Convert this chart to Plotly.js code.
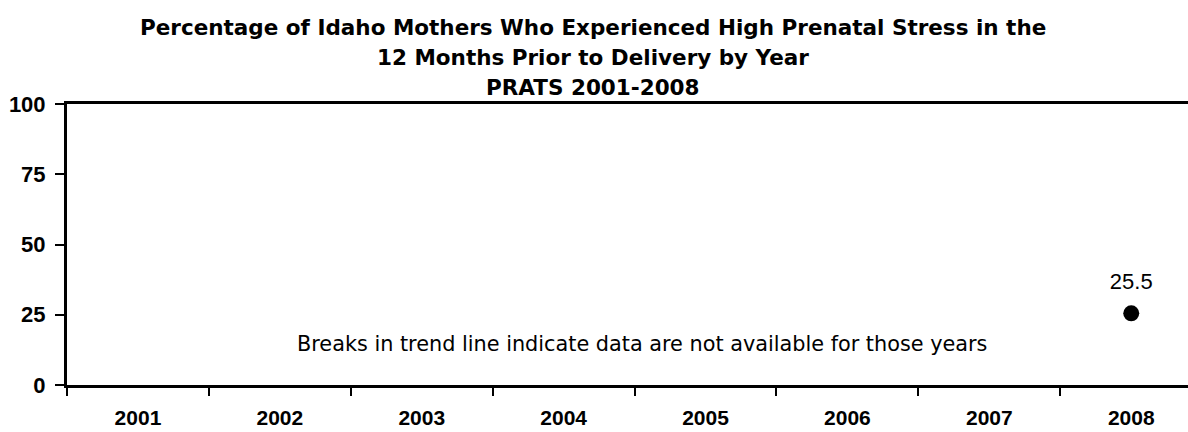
<!DOCTYPE html>
<html>
<head>
<meta charset="utf-8">
<script src="https://cdn.plot.ly/plotly-3.0.1.min.js"></script>
<style>html,body{margin:0;padding:0;background:#fff;}#chart{width:1188px;height:432px;}</style>
</head>
<body>
<div id="chart"></div>
<script>
const years = ["2001","2002","2003","2004","2005","2006","2007","2008"];
const values = [null, null, null, null, null, null, null, 25.5];
const yTicks = [0, 25, 50, 75, 100];
const titleLines = [
  "Percentage of Idaho Mothers Who Experienced High Prenatal Stress in the",
  "12 Months Prior to Delivery by Year",
  "PRATS 2001-2008"
];
const note = "Breaks in trend line indicate data are not available for those years";

const trace = {
  x: years,
  y: values,
  type: "scatter",
  mode: "lines+markers",
  connectgaps: false,
  line: {color: "#000", width: 2},
  marker: {color: "#000", size: 16},
  cliponaxis: false,
  hoverinfo: "skip"
};

// value labels: invisible larger marker so the text sits above the point
const labelTrace = {
  x: years,
  y: values,
  type: "scatter",
  mode: "markers+text",
  marker: {color: "rgba(0,0,0,0)", size: 28},
  text: values.map(v => v == null ? "" : v.toFixed(1)),
  textposition: "top center",
  textfont: {family: "Liberation Sans", size: 22, color: "#000"},
  cliponaxis: false,
  hoverinfo: "skip"
};

const titleY = [1.274, 1.167, 1.060];
const annotations = titleLines.map((t, i) => ({
  text: "<b>" + t + "</b>",
  xref: "paper", yref: "paper",
  x: (593 - 67) / 1121, y: titleY[i],
  xanchor: "center", yanchor: "middle",
  showarrow: false,
  font: {family: "DejaVu Sans", size: 21.5, color: "#000"}
}));
annotations.push({
  text: note,
  xref: "paper", yref: "paper",
  x: (642 - 67) / 1121, y: (385 - 344) / 281,
  xanchor: "center", yanchor: "middle",
  showarrow: false,
  font: {family: "DejaVu Sans", size: 20.8, color: "#000"}
});

const xTickFont = {family: "Liberation Sans", size: 21, color: "#000", weight: "bold"};
const yTickFont = {family: "Liberation Sans", size: 22, color: "#000", weight: "bold"};

const layout = {
  width: 1188, height: 432,
  margin: {l: 67, r: 0, t: 104, b: 47, pad: 0},
  paper_bgcolor: "#fff", plot_bgcolor: "#fff",
  showlegend: false,
  xaxis: {
    type: "category",
    range: [-0.5, 7.4],
    tickson: "boundaries",
    ticks: "outside", ticklen: 8, tickwidth: 2, tickcolor: "#000",
    showline: true, linecolor: "#000", linewidth: 3, mirror: true,
    showgrid: false, zeroline: false,
    tickfont: xTickFont,
    ticklabelstandoff: 12,
    automargin: false,
    fixedrange: true
  },
  yaxis: {
    range: [0, 100],
    tickmode: "array", tickvals: yTicks, ticktext: yTicks.map(String),
    ticks: "outside", ticklen: 9, tickwidth: 2, tickcolor: "#000",
    showline: true, linecolor: "#000", linewidth: 3,
    showgrid: false, zeroline: false,
    tickfont: yTickFont,
    ticklabelstandoff: 5,
    automargin: false,
    fixedrange: true
  },
  annotations: annotations
};

Plotly.newPlot("chart", [trace, labelTrace], layout, {displayModeBar: false, staticPlot: true});
</script>
</body>
</html>
